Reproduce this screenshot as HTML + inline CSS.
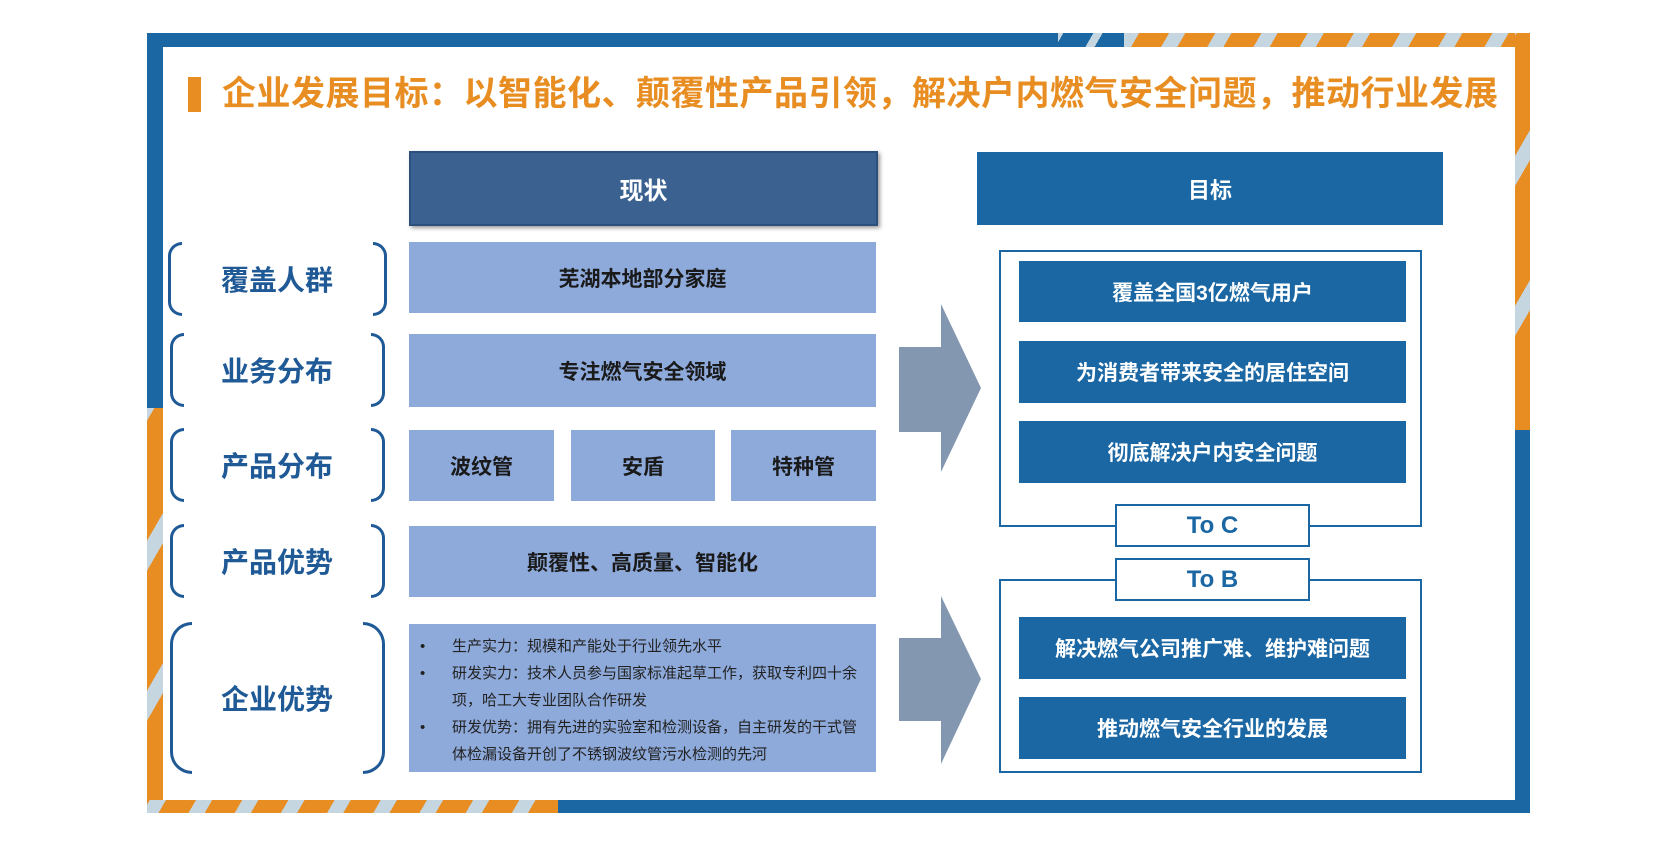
<!DOCTYPE html>
<html><head><meta charset="utf-8"><style>
*{margin:0;padding:0;box-sizing:border-box}
body{width:1677px;height:845px;background:#fff;position:relative;overflow:hidden;font-family:"Liberation Sans","Noto Sans CJK SC",sans-serif}
.a{position:absolute}
.c{display:flex;align-items:center;justify-content:center;font-weight:bold}
.lb{background:#8eaadb;color:#1a1a1a;font-size:21px}
.db{background:#1a67a3;color:#fff;font-size:21px}
.lab{color:#1f5a96;font-size:28px}
.bl{border:3px solid #1f5a96;border-right:none;border-radius:14px 0 0 14px;width:14px}
.br{border:3px solid #1f5a96;border-left:none;border-radius:0 14px 14px 0;width:14px}
.out{border:2px solid #1a67a3;background:#fff}
.tab{border:2px solid #1a67a3;background:#fff;color:#1a67a3;font-size:24px}
.bul{font-size:15px;color:#222;line-height:27px}
</style></head><body>
<div class="a" style="left:147px;top:33px;width:1383px;height:780px;background:#1a67a3"></div>
<div class="a" style="left:1124px;top:33px;width:406px;height:15px;background:repeating-linear-gradient(-60deg,#e88d22 0 26px,#c5d6e0 26px 40px)"></div>
<div class="a" style="left:1058px;top:33px;width:66px;height:15px;background:repeating-linear-gradient(-60deg,#1a67a3 0 26px,#c5d6e0 26px 34px)"></div>
<div class="a" style="left:1515px;top:33px;width:15px;height:397px;background:repeating-linear-gradient(-60deg,#e88d22 0 60px,#c5d6e0 60px 75px)"></div>
<div class="a" style="left:147px;top:408px;width:16px;height:405px;background:repeating-linear-gradient(-60deg,#e88d22 0 60px,#c5d6e0 60px 75px)"></div>
<div class="a" style="left:147px;top:800px;width:411px;height:13px;background:repeating-linear-gradient(-60deg,#e88d22 0 26px,#c5d6e0 26px 40px)"></div>
<div class="a" style="left:163px;top:47px;width:1352px;height:753px;background:#fff"></div>
<div class="a" style="left:188px;top:77px;width:13px;height:35px;background:#e88d22"></div>
<div class="a" style="left:222px;top:72px;font-size:34px;font-weight:bold;color:#e88d22;letter-spacing:0.5px;white-space:nowrap;line-height:44px">企业发展目标：以智能化、颠覆性产品引领，解决户内燃气安全问题，推动行业发展</div>
<div class="a c" style="left:409px;top:151px;width:469px;height:75px;background:#3a6190;color:#fff;font-size:24px;box-shadow:2px 2px 4px rgba(0,0,0,.4);border:2px solid #2c4f7c">现状</div>
<div class="a c" style="left:977px;top:152px;width:466px;height:73px;background:#1a67a3;color:#fff;font-size:22px">目标</div>
<div class="a bl" style="left:168px;top:242px;height:74px"></div><div class="a br" style="left:373px;top:242px;height:74px"></div>
<div class="a c lab" style="left:181px;top:242px;width:192px;height:74px">覆盖人群</div>
<div class="a c lb" style="left:409px;top:242px;width:467px;height:71px">芜湖本地部分家庭</div>
<div class="a bl" style="left:170px;top:333px;height:74px"></div><div class="a br" style="left:371px;top:333px;height:74px"></div>
<div class="a c lab" style="left:181px;top:333px;width:192px;height:74px">业务分布</div>
<div class="a c lb" style="left:409px;top:334px;width:467px;height:73px">专注燃气安全领域</div>
<div class="a bl" style="left:170px;top:428px;height:74px"></div><div class="a br" style="left:371px;top:428px;height:74px"></div>
<div class="a c lab" style="left:181px;top:428px;width:192px;height:74px">产品分布</div>
<div class="a c lb" style="left:409px;top:430px;width:145px;height:71px">波纹管</div>
<div class="a c lb" style="left:571px;top:430px;width:144px;height:71px">安盾</div>
<div class="a c lb" style="left:731px;top:430px;width:145px;height:71px">特种管</div>
<div class="a bl" style="left:170px;top:524px;height:74px"></div><div class="a br" style="left:371px;top:524px;height:74px"></div>
<div class="a c lab" style="left:181px;top:524px;width:192px;height:74px">产品优势</div>
<div class="a c lb" style="left:409px;top:526px;width:467px;height:71px">颠覆性、高质量、智能化</div>
<div class="a bl" style="left:170px;top:622px;height:152px;border-radius:26px 0 0 26px;width:22px"></div><div class="a br" style="left:363px;top:622px;height:152px;border-radius:0 26px 26px 0;width:22px"></div>
<div class="a c lab" style="left:181px;top:622px;width:192px;height:152px">企业优势</div>
<div class="a lb" style="left:409px;top:624px;width:467px;height:148px;font-weight:normal"></div>
<div class="a bul" style="left:420px;top:633px;width:450px">
<div style="display:flex"><span style="width:32px">•</span><span>生产实力：规模和产能处于行业领先水平</span></div>
<div style="display:flex"><span style="width:32px;flex:none">•</span><span>研发实力：技术人员参与国家标准起草工作，获取专利四十余项，哈工大专业团队合作研发</span></div>
<div style="display:flex"><span style="width:32px;flex:none">•</span><span>研发优势：拥有先进的实验室和检测设备，自主研发的干式管体检漏设备开创了不锈钢波纹管污水检测的先河</span></div>
</div>
<svg class="a" style="left:897px;top:300px" width="90" height="480">
<polygon points="2,47 44,47 44,4 84,88 44,172 44,132 2,132" fill="#8497b0"/>
<polygon points="2,338 44,338 44,296 84,379 44,464 44,421 2,421" fill="#8497b0"/>
</svg>
<div class="a out" style="left:999px;top:250px;width:423px;height:277px"></div>
<div class="a c db" style="left:1019px;top:261px;width:387px;height:61px">覆盖全国3亿燃气用户</div>
<div class="a c db" style="left:1019px;top:341px;width:387px;height:62px">为消费者带来安全的居住空间</div>
<div class="a c db" style="left:1019px;top:421px;width:387px;height:62px">彻底解决户内安全问题</div>
<div class="a out" style="left:999px;top:579px;width:423px;height:194px"></div>
<div class="a c db" style="left:1019px;top:617px;width:387px;height:62px">解决燃气公司推广难、维护难问题</div>
<div class="a c db" style="left:1019px;top:697px;width:387px;height:62px">推动燃气安全行业的发展</div>
<div class="a c tab" style="left:1115px;top:504px;width:195px;height:43px">To C</div>
<div class="a c tab" style="left:1115px;top:558px;width:195px;height:43px">To B</div>
</body></html>
